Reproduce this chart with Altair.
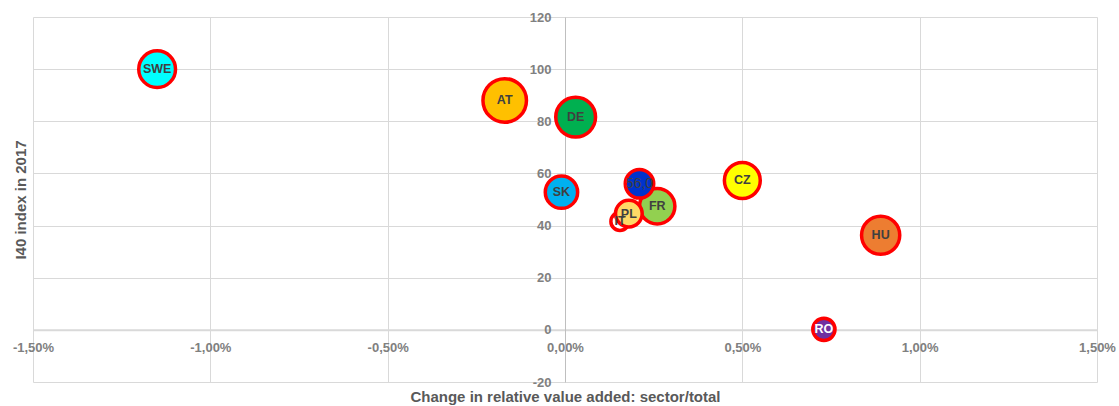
import altair as alt
import pandas as pd

# ---- data ----
countries = ["SWE", "AT", "DE", "SK", "FR", "IT", "PL", "56,0", "CZ", "HU", "RO"]
value_added_change = [-1.15, -0.17, 0.03, -0.01, 0.26, 0.155, 0.18, 0.21, 0.50, 0.89, 0.73]
i40_index = [100.0, 88.0, 81.6, 52.8, 47.4, 41.6, 44.6, 56.0, 57.3, 36.3, 0.2]
bubble_size = [430, 603, 504, 333, 398, 105, 226, 258, 410, 464, 157]
fill_colors = ["#00FFFF", "#FFC000", "#00B050", "#00B0F0", "#92D050", "#FFFFFF",
               "#FFD966", "#0033CC", "#FFFF00", "#ED7D31", "#7030A0"]
label_colors = ["#404040", "#404040", "#404040", "#404040", "#404040", "#404040",
                "#404040", "#404040", "#404040", "#404040", "#FFFFFF"]

x_ticks = [-1.5, -1.0, -0.5, 0.0, 0.5, 1.0, 1.5]
y_ticks = [-20, 0, 20, 40, 60, 80, 100, 120]
x_domain = [-1.5, 1.5]
y_domain = [-20, 120]

df = pd.DataFrame({
    "country": countries,
    "x": value_added_change,
    "y": i40_index,
    "size": bubble_size,
    "fill": fill_colors,
    "lcol": label_colors,
    "order": list(range(len(countries))),
})

W, H = 1064, 365
x_axis_offset = -H * (0 - y_domain[0]) / (y_domain[1] - y_domain[0])
y_axis_offset = -W * (0 - x_domain[0]) / (x_domain[1] - x_domain[0])

FONT = "Liberation Sans"

x_enc = alt.X(
    "x:Q",
    scale=alt.Scale(domain=x_domain, nice=False, zero=False),
    axis=alt.Axis(
        values=x_ticks,
        offset=x_axis_offset,
        title="Change in relative value added: sector/total",
        titleX=W / 2,
        titleY=-x_axis_offset + 14,
        titleBaseline="middle",
        titleAlign="center",
        labelExpr="replace(replace(format(datum.value, '.2f'), '.', ','), '\u2212', '-') + '%'",
        labelFlush=False,
        labelOverlap=False,
        labelPadding=12,
        ticks=False,
        domainColor="#D9D9D9",
        domainWidth=2,
    ),
)
y_enc = alt.Y(
    "y:Q",
    scale=alt.Scale(domain=y_domain, nice=False, zero=False),
    axis=alt.Axis(
        values=y_ticks,
        offset=y_axis_offset,
        title="I40 index in 2017",
        titleX=y_axis_offset - 13,
        titleY=H / 2,
        titleAngle=270,
        titleBaseline="middle",
        titleAlign="center",
        labelExpr="'' + datum.value",
        labelOverlap=False,
        labelFlush=False,
        labelPadding=14,
        ticks=False,
        domainColor="#BFBFBF",
        domainWidth=1,
    ),
)

bubbles = alt.Chart(df).mark_circle(
    opacity=1, stroke="#FF0000", strokeWidth=3.5
).encode(
    x=x_enc,
    y=y_enc,
    size=alt.Size("size:Q", scale=alt.Scale(type="linear", domain=[0, 1000],
                                             range=[0, 3141.6], zero=True), legend=None),
    color=alt.Color("fill:N", scale=None),
    order=alt.Order("order:Q"),
)

labels = alt.Chart(df).transform_filter(
    alt.datum.country != "56,0"
).mark_text(
    font=FONT, fontSize=12.5, fontWeight="bold", align="center", baseline="middle"
).encode(
    x="x:Q", y="y:Q", text="country:N",
    color=alt.Color("lcol:N", scale=None),
)

value_label = alt.Chart(df).transform_filter(
    alt.datum.country == "56,0"
).mark_text(
    font=FONT, fontSize=14, fontWeight="normal", align="center", baseline="middle"
).encode(
    x="x:Q", y="y:Q", text="country:N",
    color=alt.Color("lcol:N", scale=None),
)

chart = alt.layer(bubbles, labels, value_label).properties(
    width=W, height=H,
    autosize=alt.AutoSizeParams(type="none"),
    padding={"left": 33, "top": 17, "right": 22, "bottom": 24},
).configure_view(
    strokeWidth=0
).configure_axis(
    grid=True,
    gridColor="#D9D9D9",
    gridWidth=1,
    labelFont=FONT,
    labelFontSize=13,
    labelFontWeight="bold",
    labelColor="#808080",
    titleFont=FONT,
    titleFontSize=15,
    titleFontWeight="bold",
    titleColor="#595959",
)

chart.save("out.html", embed_options={"renderer": "svg", "actions": False})
